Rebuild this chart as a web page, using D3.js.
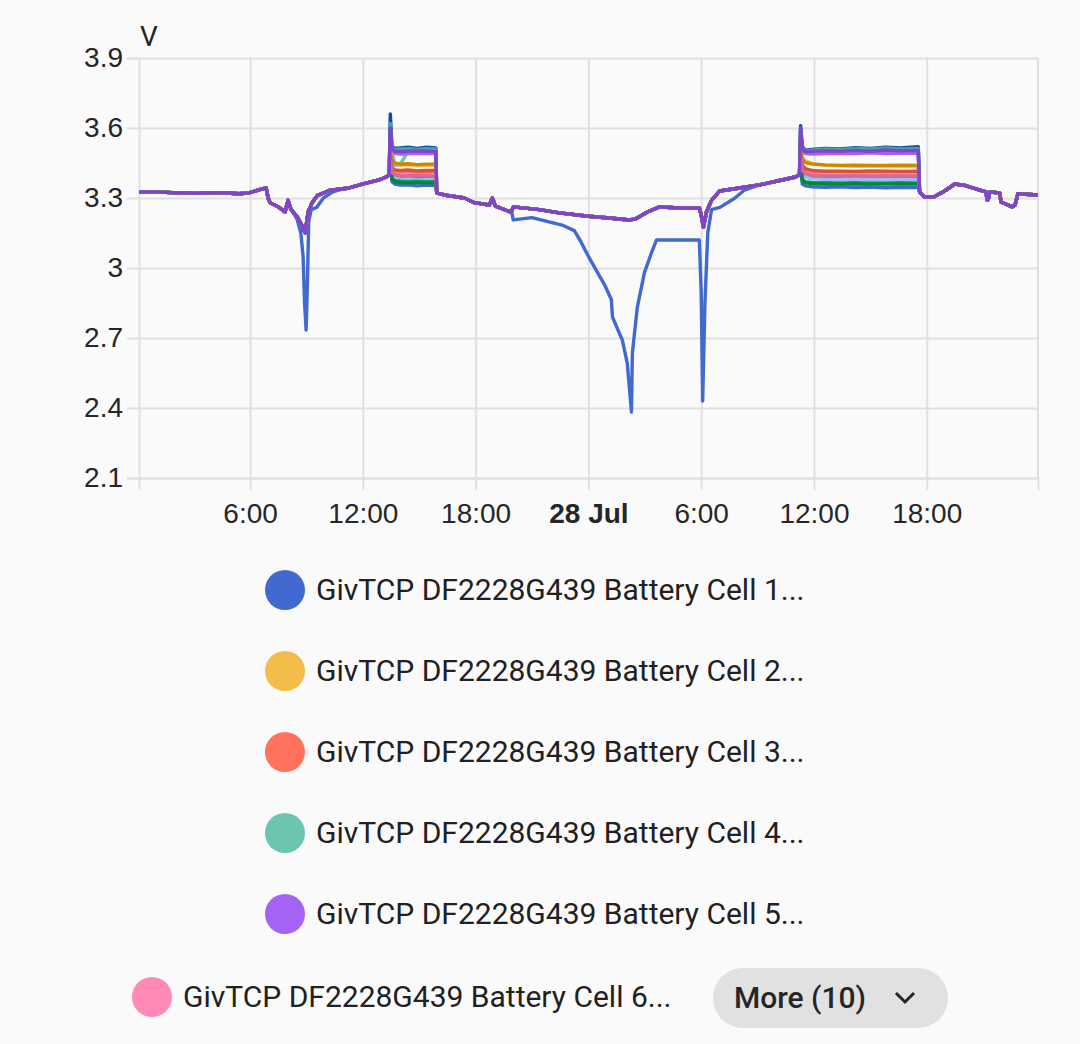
<!DOCTYPE html>
<html>
<head>
<meta charset="utf-8">
<script src="https://cdn.jsdelivr.net/npm/d3@7"></script>
<style>
  html, body { margin: 0; padding: 0; background: #fafafa; }
  svg { display: block; font-family: Roboto, "Noto Sans", sans-serif; }
</style>
</head>
<body>
<svg id="chart" width="1080" height="1044"></svg>
<script>
// ---- data (hours since 27 Jul 00:00, volts) ----
const cellColors = ['#4269d0', '#f4bd4a', '#ff725c', '#6cc5b0', '#a463f2', '#ff8ab7', '#9c6b4e', '#97bbf5',
                    '#01ab63', '#094bad', '#c98a00', '#d84f3e', '#49a28f', '#048732', '#d96895', '#8043ce'];
const legendPrefix = 'GivTCP DF2228G439 Battery Cell ';
const legendShown = 6;
const yTicks = [2.1, 2.4, 2.7, 3, 3.3, 3.6, 3.9];

// shared pack trace, outside the two charge windows
const packHours = [0.09, 1.15, 2.22, 3.28, 4.35, 5.41, 5.95, 6.59, 6.85, 6.96, 7.06, 7.54, 7.86, 8.02, 8.18,
  8.50, 8.77, 8.93, 9.09, 9.30, 9.57, 10.21, 11.27, 12.07, 12.87, 13.30,
  15.93, 16.33, 17.40, 17.93, 18.73, 18.89, 19.05, 19.79, 19.90, 20.00, 21.39, 22.45, 24.0, 25.12, 26.18,
  26.50, 27.14, 27.78, 28.58, 29.91, 30.02, 30.12, 30.28, 30.55, 30.98, 32.04, 33.10, 34.17, 35.02,
  41.62, 41.89, 42.42, 42.95, 43.49, 44.02, 44.82, 45.15, 45.22, 45.30, 45.35, 45.88, 45.95, 46.55, 46.70,
  46.85, 47.92];
const packVolts = [3.326, 3.325, 3.322, 3.320, 3.323, 3.318, 3.322, 3.338, 3.343, 3.30, 3.28, 3.26, 3.24, 3.29, 3.25,
  3.22, 3.18, 3.15, 3.24, 3.28, 3.31, 3.332, 3.343, 3.362, 3.378, 3.392,
  3.322, 3.313, 3.30, 3.28, 3.27, 3.30, 3.265, 3.242, 3.24, 3.262, 3.25, 3.236, 3.222, 3.214, 3.206,
  3.21, 3.24, 3.262, 3.258, 3.256, 3.22, 3.175, 3.24, 3.29, 3.33, 3.343, 3.356, 3.375, 3.39,
  3.326, 3.304, 3.306, 3.33, 3.36, 3.354, 3.334, 3.326, 3.29, 3.30, 3.326, 3.322, 3.283, 3.262, 3.27,
  3.318, 3.313];

// cell 1 departs from the pack twice
const cell1DipAHours = [8.50, 8.70, 8.82, 8.90, 8.98, 9.04, 9.12, 9.25, 9.55, 9.90, 10.4, 10.9];
const cell1DipAVolts = [3.21, 3.15, 3.05, 2.85, 2.734, 2.90, 3.20, 3.25, 3.26, 3.30, 3.326, 3.338];
const cell1DipBHours = [19.92, 20.00, 21.0, 22.6, 23.25, 23.55, 24.0, 24.42, 24.85, 25.22, 25.28, 25.81,
  26.07, 26.29, 26.34, 26.6, 26.98, 27.35, 27.62, 29.9, 30.0, 30.08, 30.2, 30.35, 30.55, 31.0, 31.8, 32.3, 32.85];
const cell1DipBVolts = [3.24, 3.206, 3.216, 3.184, 3.16, 3.12, 3.05, 2.99, 2.93, 2.865, 2.79, 2.69,
  2.59, 2.383, 2.636, 2.83, 2.98, 3.064, 3.12, 3.12, 2.90, 2.43, 2.85, 3.15, 3.25, 3.26, 3.30, 3.334, 3.35];

// charge windows, one row per cell
const chargeAHours = [13.40, 13.46, 13.55, 13.70, 14.00, 14.40, 14.90, 15.40, 15.88];
const chargeAVolts = [
  [3.40, 3.45, 3.37, 3.36, 3.355, 3.357, 3.352, 3.355, 3.353],
  [3.40, 3.50, 3.455, 3.445, 3.44, 3.442, 3.438, 3.44, 3.44],
  [3.40, 3.48, 3.425, 3.415, 3.41, 3.412, 3.408, 3.41, 3.41],
  [3.40, 3.58, 3.505, 3.44, 3.445, 3.50, 3.505, 3.50, 3.505],
  [3.40, 3.59, 3.50, 3.492, 3.488, 3.49, 3.492, 3.49, 3.49],
  [3.40, 3.47, 3.415, 3.405, 3.40, 3.402, 3.398, 3.40, 3.40],
  [3.40, 3.46, 3.405, 3.395, 3.39, 3.39, 3.388, 3.39, 3.39],
  [3.40, 3.46, 3.395, 3.385, 3.38, 3.382, 3.378, 3.38, 3.38],
  [3.40, 3.45, 3.385, 3.375, 3.372, 3.37, 3.372, 3.37, 3.37],
  [3.40, 3.66, 3.52, 3.512, 3.515, 3.518, 3.512, 3.518, 3.515],
  [3.40, 3.50, 3.46, 3.45, 3.445, 3.447, 3.443, 3.445, 3.445],
  [3.40, 3.48, 3.43, 3.42, 3.418, 3.42, 3.416, 3.418, 3.418],
  [3.40, 3.62, 3.515, 3.508, 3.51, 3.512, 3.508, 3.512, 3.51],
  [3.40, 3.45, 3.38, 3.37, 3.366, 3.365, 3.367, 3.365, 3.365],
  [3.40, 3.47, 3.41, 3.40, 3.396, 3.395, 3.397, 3.395, 3.395],
  [3.40, 3.60, 3.51, 3.50, 3.498, 3.50, 3.502, 3.50, 3.50]
];
const chargeBHours = [35.23, 35.29, 35.38, 35.55, 35.9, 36.6, 37.4, 38.2, 39.0, 39.8, 40.6, 41.55];
const chargeBVolts = [
  [3.40, 3.44, 3.36, 3.352, 3.348, 3.346, 3.348, 3.345, 3.347, 3.344, 3.346, 3.345],
  [3.40, 3.52, 3.475, 3.46, 3.448, 3.44, 3.438, 3.436, 3.437, 3.435, 3.436, 3.435],
  [3.40, 3.50, 3.44, 3.425, 3.415, 3.412, 3.41, 3.41, 3.411, 3.409, 3.41, 3.41],
  [3.40, 3.58, 3.51, 3.50, 3.502, 3.505, 3.508, 3.505, 3.51, 3.507, 3.51, 3.508],
  [3.40, 3.60, 3.50, 3.49, 3.488, 3.49, 3.492, 3.49, 3.494, 3.49, 3.492, 3.492],
  [3.40, 3.49, 3.43, 3.41, 3.402, 3.40, 3.40, 3.398, 3.40, 3.40, 3.399, 3.40],
  [3.40, 3.48, 3.42, 3.40, 3.392, 3.39, 3.39, 3.39, 3.389, 3.39, 3.39, 3.39],
  [3.40, 3.47, 3.41, 3.39, 3.382, 3.38, 3.38, 3.381, 3.379, 3.38, 3.38, 3.38],
  [3.40, 3.46, 3.38, 3.37, 3.367, 3.366, 3.365, 3.366, 3.364, 3.365, 3.366, 3.365],
  [3.40, 3.61, 3.52, 3.505, 3.508, 3.512, 3.51, 3.516, 3.512, 3.518, 3.514, 3.52],
  [3.40, 3.51, 3.465, 3.452, 3.445, 3.442, 3.44, 3.441, 3.44, 3.44, 3.441, 3.44],
  [3.40, 3.49, 3.44, 3.425, 3.418, 3.415, 3.415, 3.414, 3.416, 3.415, 3.414, 3.415],
  [3.40, 3.60, 3.515, 3.502, 3.505, 3.51, 3.508, 3.512, 3.51, 3.514, 3.51, 3.512],
  [3.40, 3.45, 3.375, 3.365, 3.362, 3.36, 3.36, 3.361, 3.36, 3.36, 3.361, 3.36],
  [3.40, 3.48, 3.42, 3.405, 3.397, 3.395, 3.395, 3.396, 3.394, 3.395, 3.395, 3.395],
  [3.40, 3.60, 3.51, 3.498, 3.50, 3.502, 3.50, 3.504, 3.50, 3.506, 3.502, 3.504]
];

// ---- helpers ----
const day0 = new Date(2023, 6, 27);
const toDate = h => new Date(day0.getTime() + h * 3600e3);

function zip(hours, volts) {
  return hours.map((h, i) => [h, volts[i]]);
}

function cellSeries(i) {
  const inside = (h, hs) => h >= hs[0] && h <= hs[hs.length - 1];
  let pts = zip(packHours, packVolts)
    .filter(p => !inside(p[0], chargeAHours) && !inside(p[0], chargeBHours));
  pts = pts.concat(zip(chargeAHours, chargeAVolts[i]), zip(chargeBHours, chargeBVolts[i]));
  if (i === 0) {
    pts = pts.filter(p => !inside(p[0], cell1DipAHours) && !inside(p[0], cell1DipBHours))
      .concat(zip(cell1DipAHours, cell1DipAVolts), zip(cell1DipBHours, cell1DipBVolts));
  }
  return pts.sort((a, b) => a[0] - b[0]).map(p => ({date: toDate(p[0]), v: p[1]}));
}

// ---- layout ----
const svg = d3.select('#chart');
const plot = {left: 139, right: 1038, top: 58, bottom: 478};
const gridColor = '#e0e0e0';
const textColor = '#262626';

const x = d3.scaleTime()
  .domain([toDate(0.09), toDate(47.92)])
  .range([plot.left, plot.right]);
const y = d3.scaleLinear()
  .domain([2.1, 3.9])
  .range([plot.bottom, plot.top]);

svg.append('rect').attr('width', 1080).attr('height', 1044).attr('fill', '#fafafa');

// y axis + horizontal grid
const yAxis = svg.append('g')
  .attr('transform', `translate(${plot.left},0)`)
  .call(d3.axisLeft(y).tickValues(yTicks).tickSize(12).tickPadding(4).tickFormat(d3.format('~g')));
yAxis.select('.domain').attr('stroke', gridColor).attr('stroke-width', 2);
yAxis.selectAll('.tick line').attr('stroke', gridColor).attr('stroke-width', 2).clone()
  .attr('x1', 0).attr('x2', plot.right - plot.left);
yAxis.selectAll('.tick text').attr('fill', textColor).style('font-size', '28px');

// x axis + vertical grid
const fmtTick = d => (d.getHours() === 0 ? d3.timeFormat('%-d %b')(d) : d3.timeFormat('%-H:%M')(d));
const xAxis = svg.append('g')
  .attr('transform', `translate(0,${plot.bottom})`)
  .call(d3.axisBottom(x).ticks(d3.timeHour.every(6)).tickSize(12).tickPadding(13).tickFormat(fmtTick));
xAxis.select('.domain').attr('stroke', gridColor).attr('stroke-width', 2);
xAxis.selectAll('.tick line').attr('stroke', gridColor).attr('stroke-width', 2).clone()
  .attr('y1', 0).attr('y2', plot.top - plot.bottom);
xAxis.selectAll('.tick text')
  .attr('fill', textColor)
  .style('font-size', '28px')
  .style('font-weight', d => (d.getHours() === 0 ? 700 : 400));

// right border
svg.append('line')
  .attr('x1', plot.right).attr('x2', plot.right)
  .attr('y1', plot.top).attr('y2', plot.bottom)
  .attr('stroke', gridColor).attr('stroke-width', 2);

// unit
svg.append('text')
  .attr('x', 140).attr('y', 46)
  .attr('fill', textColor)
  .style('font-size', '28px')
  .text('V');

// lines
svg.append('clipPath').attr('id', 'plotClip')
  .append('rect')
  .attr('x', plot.left).attr('y', plot.top - 10)
  .attr('width', plot.right - plot.left).attr('height', plot.bottom - plot.top + 10);

const line = d3.line().x(d => x(d.date)).y(d => y(d.v));
svg.append('g').attr('clip-path', 'url(#plotClip)')
  .selectAll('path')
  .data(cellColors.map((c, i) => ({color: c, pts: cellSeries(i)})))
  .join('path')
  .attr('d', d => line(d.pts))
  .attr('fill', 'none')
  .attr('stroke', d => d.color)
  .attr('stroke-width', 3.4)
  .attr('stroke-linejoin', 'round')
  .attr('stroke-linecap', 'round');

// legend
const legendRows = d3.range(legendShown).map(i => ({
  color: cellColors[i],
  label: legendPrefix + (i + 1) + '...'
}));
const legend = svg.append('g');
legendRows.forEach((d, i) => {
  const last = i === legendShown - 1;
  const cx = last ? 152 : 285;
  const cy = last ? 997 : 590 + i * 81;
  legend.append('circle').attr('cx', cx).attr('cy', cy).attr('r', 20).attr('fill', d.color);
  legend.append('text')
    .attr('x', cx + 31).attr('y', cy + 10)
    .attr('fill', '#212121')
    .style('font-size', '30px')
    .text(d.label);
});

// "More" button
const more = legend.append('g');
more.append('rect')
  .attr('x', 713).attr('y', 968).attr('width', 235).attr('height', 60).attr('rx', 30)
  .attr('fill', '#e1e1e1');
more.append('text')
  .attr('x', 734).attr('y', 1008)
  .attr('fill', '#262626')
  .style('font-size', '30px')
  .style('font-weight', 500)
  .text(`More (${cellColors.length - legendShown})`);
more.append('path')
  .attr('d', 'M896,993 L905,1002 L914,993')
  .attr('fill', 'none')
  .attr('stroke', '#262626')
  .attr('stroke-width', 3);
</script>
</body>
</html>
